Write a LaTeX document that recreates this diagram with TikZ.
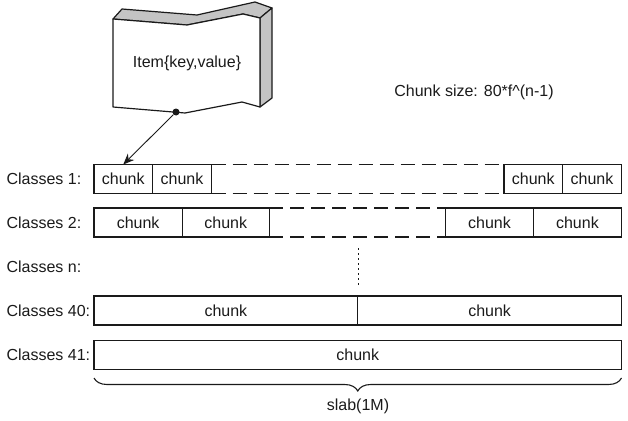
\documentclass[tikz,border=0pt]{standalone}
\usepackage{fontspec}
\setmainfont{Liberation Sans}
\usetikzlibrary{arrows.meta, decorations.pathreplacing}
\definecolor{ink}{HTML}{1A1A1A}
\definecolor{shade}{HTML}{C4C4C4}
\tikzset{
  cell/.style={draw=ink, line width=1.3pt, minimum height=29pt, inner sep=0pt, outer sep=0pt, anchor=west},
  gap/.style={draw=ink, line width=1.3pt, dash pattern=on 14pt off 7pt},
  dotline/.style={draw=ink, line width=1.4pt, dash pattern=on 1.6pt off 3.4pt},
  ptr/.style={-{Stealth[length=11pt, width=9pt]}, line width=0.9pt, color=ink},
  face/.style={draw=ink, line width=1.2pt, line join=round},
  brace/.style={draw=ink, line width=1.1pt, decorate, decoration={brace, amplitude=13pt, mirror}},
  lbl/.style={anchor=west},
  every node/.append style={font=\fontsize{16}{19}\selectfont, text=ink}
}

\begin{document}
\begin{tikzpicture}[x=1pt, y=-1pt]
\useasboundingbox (0,0) rectangle (628,420);

% item block
\draw[face, fill=shade] (113,19) -- (187,25) -- (243,14) -- (260,18) -- (272,8) -- (255,2) -- (197,15) -- (122,9) -- cycle;
\draw[face, fill=shade] (260,18) -- (272,8) -- (272,98) -- (260,107) -- cycle;
\draw[face, fill=white] (113,19) -- (187,25) -- (243,14) -- (260,18) -- (260,107) -- (242,102) -- (185,113) -- (113,107) -- cycle;
\node (item) at (187,63) {Item\{key,value\}};
\node[circle, fill=ink, inner sep=0pt, minimum size=7pt] (dot) at (176,112) {};

\node (size) at (474,92) {Chunk size: 80*f\textasciicircum(n-1)};

% row labels
\node[lbl] (l1) at (3,179) {Classes 1:};
\node[lbl] (l2) at (3,222.5) {Classes 2:};
\node[lbl] (ln) at (3,267) {Classes n:};
\node[lbl] (l40) at (3,310.5) {Classes 40:};
\node[lbl] (l41) at (3,355) {Classes 41:};

% classes 1
\node[cell, minimum width=58.5pt] (c1a) at (94,179) {chunk};
\node[cell, minimum width=59pt] (c1b) at (c1a.east) {chunk};
\node[cell, minimum width=58.5pt] (c1c) at (504,179) {chunk};
\node[cell, minimum width=59pt] (c1d) at (c1c.east) {chunk};
\draw[gap] (c1b.north east) -- (c1c.north west);
\draw[gap] (c1b.south east) -- (c1c.south west);

% classes 2
\node[cell, minimum width=88.3pt] (c2a) at (94,222.5) {chunk};
\node[cell, minimum width=87pt] (c2b) at (c2a.east) {chunk};
\node[cell, minimum width=87.6pt] (c2c) at (445.7,222.5) {chunk};
\node[cell, minimum width=88.2pt] (c2d) at (c2c.east) {chunk};
\draw[gap] (c2b.north east) -- (c2c.north west);
\draw[gap] (c2b.south east) -- (c2c.south west);

% classes n
\coordinate (dtop) at (358.5,248);
\coordinate (dbot) at (358.5,285);
\draw[dotline] (dtop) -- (dbot);

% classes 40 and 41
\node[cell, minimum width=263.7pt] (c40a) at (94,310.5) {chunk};
\node[cell, minimum width=263.8pt] (c40b) at (c40a.east) {chunk};
\node[cell, minimum width=527.5pt] (c41) at (94,355) {chunk};

% slab
\coordinate (bl) at (94,378);
\coordinate (br) at (621.5,378);
\draw[brace] (bl) -- (br);
\node (slab) at (358,406) {slab(1M)};

\draw[ptr] (dot) -- (c1a.north);
\end{tikzpicture}
\end{document}
